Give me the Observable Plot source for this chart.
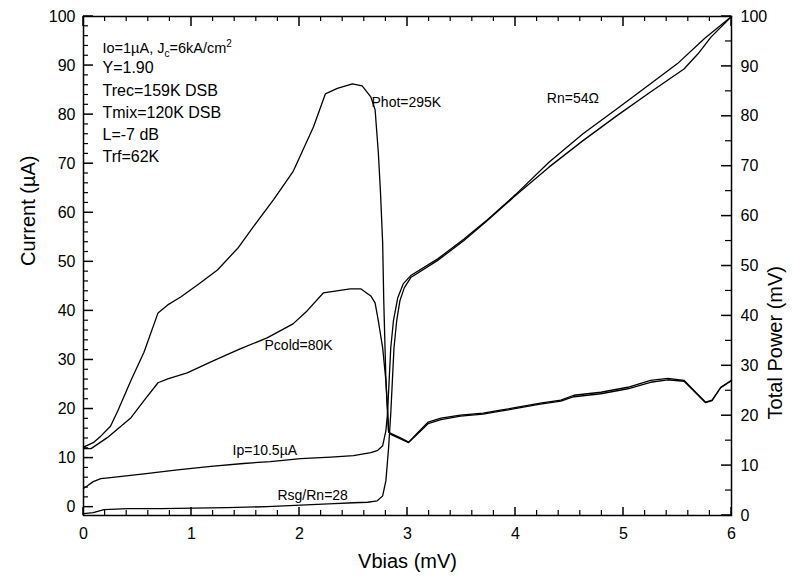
<!DOCTYPE html>
<html><head><meta charset="utf-8">
<script src="https://cdn.jsdelivr.net/npm/d3@7"></script>
<script src="https://cdn.jsdelivr.net/npm/@observablehq/plot@0.6"></script>
<style>html,body{margin:0;padding:0;background:#fff}</style>
</head><body><div id="chart"></div>
<script>
// ---- Data (Vbias in mV) ----
// Total power curves (right axis, mV)
const photV = [0, 0.09, 0.16, 0.25, 0.32, 0.44, 0.56, 0.69, 0.78, 0.9, 1.08, 1.24, 1.43, 1.57, 1.76, 1.94, 2.13, 2.24, 2.35, 2.49, 2.58, 2.66, 2.70, 2.73, 2.75, 2.77, 2.78, 2.80, 2.815, 2.825, 2.84, 2.94, 3.01, 3.09, 3.19, 3.31, 3.49, 3.70, 3.86, 4.02, 4.23, 4.42, 4.54, 4.79, 5.04, 5.25, 5.41, 5.56, 5.65, 5.76, 5.82, 5.90, 6.0];
const photP = [13.7, 14.6, 15.9, 17.9, 21.1, 27.1, 32.7, 40.6, 42.2, 43.8, 46.6, 49.2, 53.6, 57.8, 63.3, 68.9, 77.9, 84.5, 85.6, 86.5, 86.1, 83.9, 81.3, 72.7, 64.7, 54.6, 43.2, 27.1, 20.5, 16.7, 16.5, 15.5, 14.7, 16.5, 18.7, 19.5, 20.1, 20.5, 21.1, 21.7, 22.5, 23.1, 24.1, 24.7, 25.7, 27.1, 27.5, 27.1, 25.1, 22.7, 23.1, 25.7, 27.1];
const pcoldV = [0, 0.07, 0.22, 0.44, 0.56, 0.69, 0.78, 0.96, 1.20, 1.45, 1.70, 1.94, 2.07, 2.22, 2.47, 2.57, 2.66, 2.70, 2.73, 2.77, 2.80, 2.815, 2.825, 2.84, 2.94, 3.01, 3.09, 3.19, 3.31, 3.49, 3.70, 3.86, 4.02, 4.23, 4.42, 4.54, 4.79, 5.04, 5.25, 5.41, 5.56, 5.65, 5.76, 5.82, 5.90, 6.0];
const pcoldP = [13.4, 13.4, 15.6, 19.6, 23.0, 26.6, 27.4, 28.6, 31.0, 33.4, 35.6, 38.4, 41.0, 44.6, 45.4, 45.4, 44.0, 42.6, 39.0, 33.6, 27.0, 21.6, 17.0, 16.3, 15.3, 14.6, 16.3, 18.4, 19.2, 19.9, 20.3, 20.9, 21.5, 22.3, 22.9, 23.8, 24.4, 25.4, 26.7, 27.2, 26.9, 25.0, 22.6, 23.0, 25.6, 27.0];
// I-V curves (left axis, µA)
const ivV = [0, 0.09, 0.19, 0.41, 0.71, 1.02, 1.33, 1.70, 2.01, 2.32, 2.50, 2.63, 2.72, 2.77, 2.80, 2.825, 2.845, 2.86, 2.875, 2.90, 2.93, 2.97, 3.03, 3.28, 3.52, 3.74, 4.0, 4.31, 4.625, 4.94, 5.25, 5.56, 5.69, 5.81, 6.0];
const ivI = [-1.3, -1.1, -0.5, -0.3, -0.3, -0.2, -0.1, 0.1, 0.4, 0.7, 0.9, 1.0, 1.3, 2.3, 5.4, 12.1, 19.1, 25.8, 32.5, 38.0, 42.1, 44.7, 46.8, 50.3, 54.3, 58.4, 63.5, 69.3, 74.7, 79.8, 84.6, 89.3, 92.4, 95.8, 100];
const pumpV = [0, 0.04, 0.09, 0.16, 0.25, 0.56, 0.87, 1.18, 1.48, 1.73, 2.01, 2.29, 2.50, 2.66, 2.72, 2.77, 2.80, 2.815, 2.83, 2.845, 2.87, 2.91, 2.96, 3.03, 3.28, 3.52, 3.74, 4.0, 4.31, 4.625, 4.94, 5.25, 5.5, 5.75, 6.0];
const pumpI = [3.8, 4.4, 5.2, 5.8, 6.0, 6.8, 7.6, 8.3, 8.9, 9.3, 9.9, 10.2, 10.5, 11.1, 11.5, 12.5, 15.6, 19.1, 25.8, 32.5, 38.0, 42.7, 45.5, 47.2, 50.6, 54.6, 58.6, 63.7, 70.3, 76.1, 81.2, 86.3, 90.4, 95.5, 100];
// Tick labels
const xTicks = [0, 1, 2, 3, 4, 5, 6];
const xMinor = d3.range(0, 6.001, 0.2).map(d => +d.toFixed(1)).filter(d => !xTicks.includes(d));
const leftTicks = [0, 10, 20, 30, 40, 50, 60, 70, 80, 90, 100];
const leftMinor = d3.range(0, 100, 2).filter(d => d % 10 !== 0);
const rightTicks = [0, 10, 20, 30, 40, 50, 60, 70, 80, 90, 100];
const rightMinor = [5, 15, 25, 35, 45, 55, 65, 75, 85, 95];
// Curve labels
const labelText = ["Phot=295K", "Rn=54\u03A9", "Pcold=80K", "Ip=10.5\u00B5A", "Rsg/Rn=28"];
const labelX = [2.667, 4.29, 1.676, 1.38, 1.796];
const labelY = [82.5, 83.3, 32.9, 11.5, 2.3];
const notes = ["Y=1.90", "Trec=159K DSB", "Tmix=120K DSB", "L=-7 dB", "Trf=62K"];

// ---- layout & scales ----
const W = 792, H = 576, mL = 83, mR = 61, mT = 16, mB = 61;
const xMin = 0, xMax = 6;
const yMin = -1.7, yMax = 100;
const toLeft = w => yMin + w * (yMax - yMin) / 100;
const toRight = u => (u - yMin) * 100 / (yMax - yMin);

const zip = (xs, ys) => xs.map((x, i) => ({x, y: ys[i]}));
const phot = zip(photV, photP.map(toLeft));
const pcold = zip(pcoldV, pcoldP.map(toLeft));
const iv = zip(ivV, ivI);
const pump = zip(pumpV, pumpI);
const labels = labelText.map((t, i) => ({t, x: labelX[i], y: labelY[i]}));

const lineOpts = {x: "x", y: "y", stroke: "black", strokeWidth: 1.3, curve: "linear"};

const chart = Plot.plot({
  width: W, height: H,
  marginLeft: mL, marginRight: mR, marginTop: mT, marginBottom: mB,
  style: {fontFamily: "'Liberation Sans', Arial, sans-serif", background: "#fff", color: "black"},
  x: {domain: [xMin, xMax]},
  y: {domain: [yMin, yMax]},
  marks: [
    Plot.frame({stroke: "black", strokeWidth: 1.5}),
    Plot.axisX(xTicks, {anchor: "bottom", tickSize: 0, tickPadding: 12, fontSize: 16, label: null}),
    Plot.axisY(leftTicks, {anchor: "left", tickSize: 0, tickPadding: 8, fontSize: 16, label: null}),
    Plot.axisY(rightTicks.map(toLeft), {anchor: "right", tickSize: 0, tickPadding: 9, fontSize: 16, label: null, tickFormat: d => String(Math.round(toRight(d)))}),
    // curves
    Plot.line(phot, lineOpts),
    Plot.line(pcold, lineOpts),
    Plot.line(iv, lineOpts),
    Plot.line(pump, lineOpts),
    // curve labels
    Plot.text(labels, {x: "x", y: "y", text: "t", textAnchor: "start", fontSize: 14, fill: "black"}),
    // parameter block
    Plot.text(["Io=1\u00B5A, Jc=6kA/cm2"], {frameAnchor: "top-left", dx: 19, dy: 26, textAnchor: "start", fontSize: 14.5, fill: "black"}),
    Plot.text([notes.join("\n")], {frameAnchor: "top-left", dx: 19, dy: 41, lineAnchor: "top", lineHeight: 1.39, textAnchor: "start", fontSize: 16, fill: "black"}),
    // axis titles
    Plot.text(["Vbias (mV)"], {frameAnchor: "bottom", dy: 52, fontSize: 20, fill: "black"}),
    Plot.text(["Current (\u00B5A)"], {frameAnchor: "left", dx: -55, rotate: -90, fontSize: 20, fill: "black"}),
    Plot.text(["Total Power (mV)"], {frameAnchor: "right", dx: 44, rotate: -90, fontSize: 20, fill: "black"})
  ]
});
document.getElementById("chart").appendChild(chart);

// inward tick marks on all four sides, placed with the plot's own scales
const sx = chart.scale("x"), sy = chart.scale("y");
const svg = d3.select(chart);
const tg = svg.append("g").attr("stroke", "black").attr("fill", "none");
const X0 = sx.apply(xMin), X1 = sx.apply(xMax), Y0 = sy.apply(yMin), Y1 = sy.apply(yMax);
function vt(vals, y, len, sw) { vals.forEach(v => { const px = sx.apply(v); tg.append("line").attr("x1", px).attr("x2", px).attr("y1", y).attr("y2", y + len).attr("stroke-width", sw); }); }
function ht(vals, x, len, sw) { vals.forEach(v => { const py = sy.apply(v); tg.append("line").attr("x1", x).attr("x2", x + len).attr("y1", py).attr("y2", py).attr("stroke-width", sw); }); }
vt(xTicks, Y0, -8, 1.5); vt(xMinor, Y0, -5, 1.2);
vt(xTicks, Y1, 10, 1.5); vt(xMinor, Y1, 5, 1.2);
ht(leftTicks, X0, 10, 1.5); ht(leftMinor, X0, 5, 1.2);
ht(rightTicks.map(toLeft), X1, -10, 1.5); ht(rightMinor.map(toLeft), X1, -6, 1.2);

// sub/superscripts for J_c and cm^2
svg.selectAll("text").each(function() {
  if (this.textContent === "Io=1\u00B5A, Jc=6kA/cm2") {
    const t = d3.select(this);
    t.text(null);
    t.append("tspan").text("Io=1\u00B5A, J");
    t.append("tspan").attr("dy", 4).attr("font-size", 10).text("c");
    t.append("tspan").attr("dy", -4).text("=6kA/cm");
    t.append("tspan").attr("dy", -6).attr("font-size", 10).text("2");
  }
});
</script>
</body></html>
